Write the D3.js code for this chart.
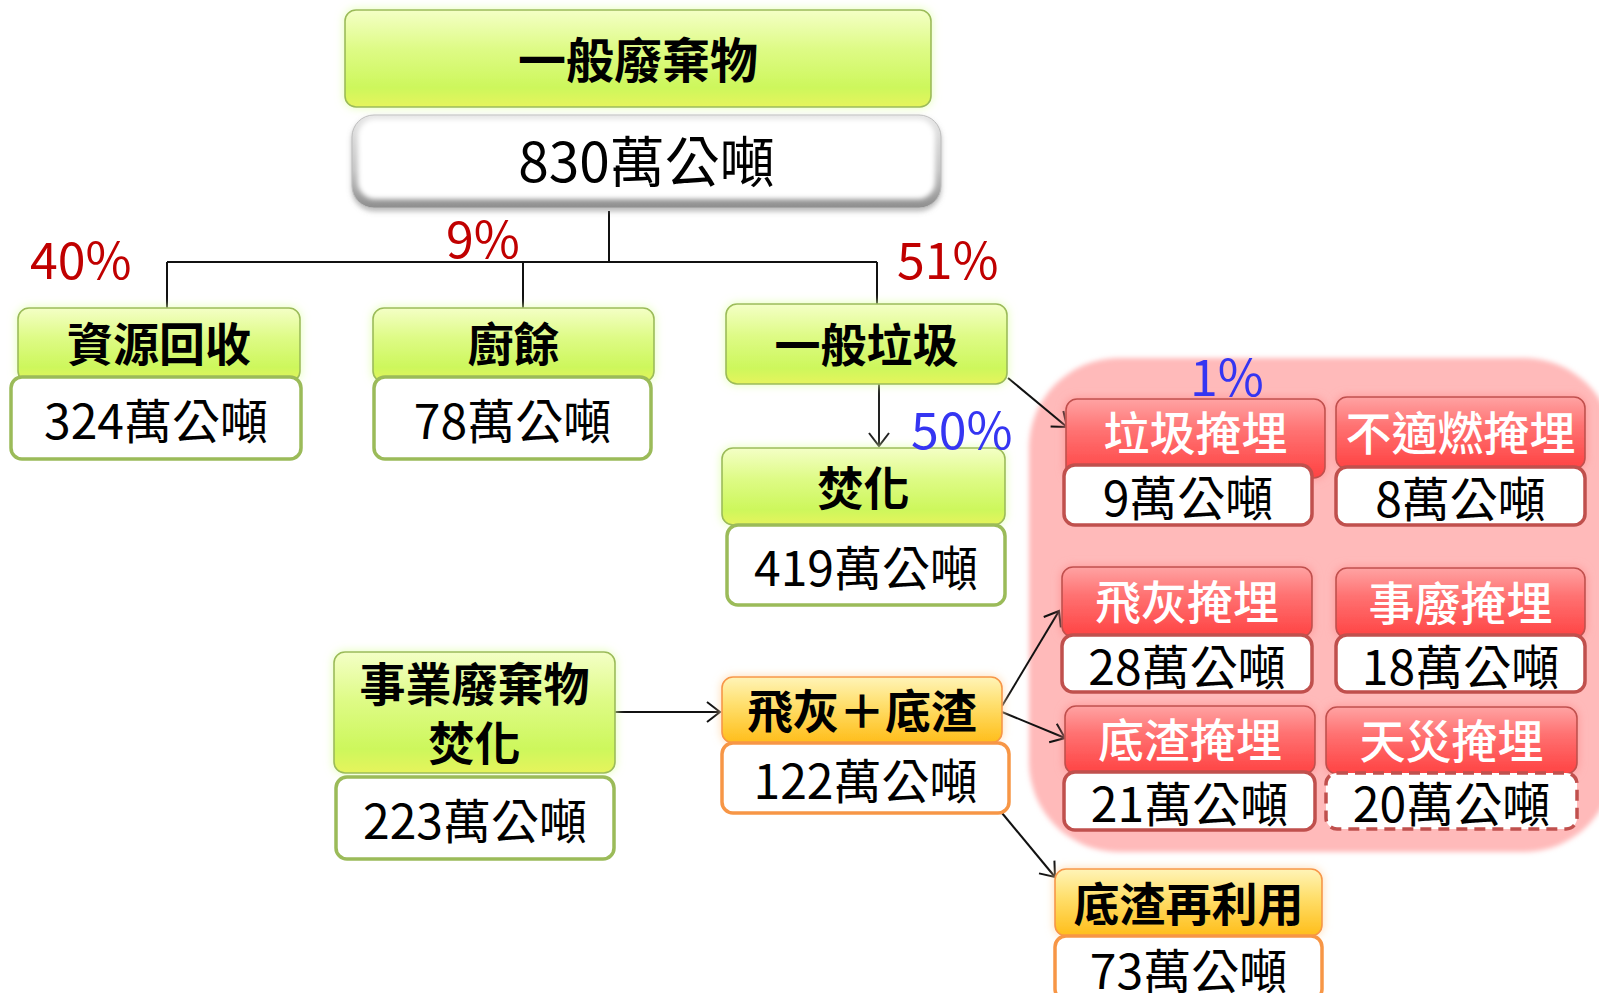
<!DOCTYPE html>
<html>
<head>
<meta charset="utf-8">
<script src="https://cdn.jsdelivr.net/npm/d3@7"></script>
<style>
  body { margin: 0; background: #fff; }
  svg { display: block; }
  text { font-family: "Noto Sans CJK TC", "Noto Sans CJK SC", sans-serif; }
</style>
</head>
<body>
<div id="chart"></div>
<script>
// ---- data ----
var names   = ["一般廢棄物", "資源回收", "廚餘", "一般垃圾", "焚化", "事業廢棄物焚化", "飛灰＋底渣",
               "垃圾掩埋", "不適燃掩埋", "飛灰掩埋", "事廢掩埋", "底渣掩埋", "天災掩埋", "底渣再利用"];
var amounts = [830, 324, 78, null, 419, 223, 122, 9, 8, 28, 18, 21, 20, 73];   // 萬公噸
var kinds   = ["top", "green", "green", "green", "green", "green", "orange",
               "red", "red", "red", "red", "red", "red", "orange"];
var unit = "萬公噸";
var shareLabels = ["40%", "9%", "51%", "50%", "1%"];
var shareOf     = ["資源回收", "廚餘", "一般垃圾", "焚化", "垃圾掩埋"];

// ---- layout (px) ----
var box = {
  "一般廢棄物":   {x: 345, y: 10, w: 586, h: 97, vx: 352, vy: 115, vw: 589, vh: 93},
  "資源回收":     {x: 18, y: 308, w: 282, h: 74, vx: 11, vy: 377, vw: 290, vh: 82},
  "廚餘":         {x: 373, y: 308, w: 281, h: 74, vx: 374, vy: 377, vw: 277, vh: 82},
  "一般垃圾":     {x: 726, y: 304, w: 281, h: 80},
  "焚化":         {x: 722, y: 448, w: 283, h: 77, vx: 727, vy: 525, vw: 278, vh: 80},
  "事業廢棄物焚化": {x: 334, y: 652, w: 281, h: 121, vx: 336, vy: 777, vw: 278, vh: 82},
  "飛灰＋底渣":   {x: 722, y: 677, w: 280, h: 66, vx: 722, vy: 743, vw: 287, vh: 70},
  "垃圾掩埋":     {x: 1066, y: 399, w: 259, h: 79, vx: 1064, vy: 465, vw: 248, vh: 60},
  "不適燃掩埋":   {x: 1336, y: 397, w: 249, h: 72, vx: 1336, vy: 467, vw: 249, vh: 58},
  "飛灰掩埋":     {x: 1062, y: 567, w: 250, h: 70, vx: 1062, vy: 635, vw: 250, vh: 57},
  "事廢掩埋":     {x: 1336, y: 568, w: 249, h: 70, vx: 1336, vy: 635, vw: 249, vh: 57},
  "底渣掩埋":     {x: 1065, y: 706, w: 250, h: 68, vx: 1064, vy: 772, vw: 251, vh: 58},
  "天災掩埋":     {x: 1326, y: 707, w: 251, h: 67, vx: 1326, vy: 773, vw: 251, vh: 56},
  "底渣再利用":   {x: 1055, y: 869, w: 267, h: 67, vx: 1055, vy: 936, vw: 267, vh: 64}
};
var pctPos = {"40%": [30, 279], "9%": [446, 258], "51%": [897, 279], "50%": [911, 449], "1%": [1190, 396]};
var tree = {x: 609, top: 211, bar: 262, drops: [[167, 308], [523, 308], [877, 304]]};
var arrows = [
  {from: [879, 384], to: [879, 446], c: "#222"},
  {from: [1008, 378], to: [1067, 427], c: "#111"},
  {from: [878, 607], to: [878, 675], c: "#c0504d"},
  {from: [615, 712], to: [720, 712], c: "#111"},
  {from: [1002, 706], to: [1059, 611], c: "#111"},
  {from: [1002, 712], to: [1065, 738], c: "#111"},
  {from: [1002, 813], to: [1055, 877], c: "#111"}
];
var pink = {x: 1029, y: 358, w: 585, h: 494, r: 90};

var theme = {
  green:  {stops: ["#f4ffc6", "#defb86", "#cdf75c", "#e6f45c"], edge: "#9bbb59", glow: "#e2ffab", ink: "#000", weight: 700},
  orange: {stops: ["#fff4b8", "#ffe070", "#ffc935", "#ffbd1c"], edge: "#f79646", glow: "#ffd8a8", ink: "#000", weight: 700},
  red:    {stops: ["#ffa3a3", "#ff7272", "#ff5252", "#ff4343"], edge: "#c0504d", glow: "#ff9090", ink: "#fff", weight: 500},
  top:    {stops: ["#f4ffc6", "#defb86", "#cdf75c", "#e6f45c"], edge: "#9bbb59", glow: "#e2ffab", ink: "#000", weight: 700}
};

var W = 1599, H = 993;
var svg = d3.select("#chart").append("svg").attr("width", W).attr("height", H);
var defs = svg.append("defs");

function glowFilter(id, color, sd) {
  var f = defs.append("filter").attr("id", id)
    .attr("x", "-30%").attr("y", "-30%").attr("width", "160%").attr("height", "160%");
  f.append("feGaussianBlur").attr("in", "SourceAlpha").attr("stdDeviation", sd).attr("result", "b");
  f.append("feFlood").attr("flood-color", color).attr("flood-opacity", 0.9);
  f.append("feComposite").attr("in2", "b").attr("operator", "in").attr("result", "g");
  var m = f.append("feMerge");
  m.append("feMergeNode").attr("in", "g");
  m.append("feMergeNode").attr("in", "SourceGraphic");
}

Object.keys(theme).forEach(function (k) {
  var t = theme[k];
  var g = defs.append("linearGradient").attr("id", "grad-" + k)
    .attr("x1", 0).attr("y1", 0).attr("x2", 0).attr("y2", 1);
  [0, 0.4, 0.8, 1].forEach(function (o, i) {
    g.append("stop").attr("offset", o).attr("stop-color", t.stops[i]);
  });
  glowFilter("glow-" + k, t.glow, 5);
});
glowFilter("glow-line", "#ffc8c8", 3);

var bevel = defs.append("linearGradient").attr("id", "bevel")
  .attr("x1", 0).attr("y1", 0).attr("x2", 0).attr("y2", 1);
bevel.append("stop").attr("offset", 0).attr("stop-color", "#e6e6e6");
bevel.append("stop").attr("offset", 0.6).attr("stop-color", "#c4c4c4");
bevel.append("stop").attr("offset", 1).attr("stop-color", "#8e8e8e");
defs.append("filter").attr("id", "soft").append("feGaussianBlur").attr("stdDeviation", 2.5);
defs.append("filter").attr("id", "shadow")
  .attr("x", "-10%").attr("y", "-20%").attr("width", "120%").attr("height", "150%")
  .append("feDropShadow").attr("dx", 0).attr("dy", 3).attr("stdDeviation", 2.5)
  .attr("flood-color", "#777").attr("flood-opacity", 0.5);

function marker(id, color) {
  defs.append("marker").attr("id", id)
    .attr("viewBox", "-16 -12 18 24").attr("refX", 0).attr("refY", 0)
    .attr("markerWidth", 18).attr("markerHeight", 24)
    .attr("markerUnits", "userSpaceOnUse").attr("orient", "auto")
    .append("path").attr("d", "M-13,-10L0,0L-13,10")
    .attr("fill", "none").attr("stroke", color).attr("stroke-width", 2);
}

// pink landfill zone
svg.append("rect")
  .attr("x", pink.x).attr("y", pink.y).attr("width", pink.w).attr("height", pink.h)
  .attr("rx", pink.r).attr("fill", "#ffbaba").attr("filter", "url(#soft)");

// tree connector
var line = d3.line();
svg.append("path").attr("d", line([[tree.x, tree.top], [tree.x, tree.bar]]))
  .attr("stroke", "#111").attr("stroke-width", 2).attr("fill", "none");
svg.append("path").attr("d", line([[tree.drops[0][0], tree.bar], [tree.drops[2][0], tree.bar]]))
  .attr("stroke", "#111").attr("stroke-width", 2).attr("fill", "none");
tree.drops.forEach(function (d) {
  svg.append("path").attr("d", line([[d[0], tree.bar], d]))
    .attr("stroke", "#111").attr("stroke-width", 2).attr("fill", "none");
});

// arrows
arrows.forEach(function (a, i) {
  var red = a.c === "#c0504d";
  marker("arr" + i, a.c);
  svg.append("path").attr("d", line([a.from, a.to]))
    .attr("stroke", a.c).attr("stroke-width", red ? 3 : 2)
    .attr("fill", "none").attr("marker-end", "url(#arr" + i + ")")
    .attr("filter", red ? "url(#glow-line)" : null);
});

// nodes
var nodes = names.map(function (n, i) {
  return {name: n, amount: amounts[i], kind: kinds[i], b: box[n]};
});

var node = svg.selectAll("g.node").data(nodes).enter().append("g").attr("class", "node");

node.append("rect")
  .attr("x", function (d) { return d.b.x; })
  .attr("y", function (d) { return d.b.y; })
  .attr("width", function (d) { return d.b.w; })
  .attr("height", function (d) { return d.b.h; })
  .attr("rx", 11)
  .attr("fill", function (d) { return "url(#grad-" + d.kind + ")"; })
  .attr("stroke", function (d) { return theme[d.kind].edge; })
  .attr("stroke-width", 1.6)
  .attr("filter", function (d) { return "url(#glow-" + d.kind + ")"; });

node.each(function (d) {
  var g = d3.select(this), b = d.b, t = theme[d.kind];
  var lines = d.name === "事業廢棄物焚化" ? ["事業廢棄物", "焚化"] : [d.name];
  var bottom = b.vy ? Math.min(b.y + b.h, b.vy) : b.y + b.h;
  var cy = (b.y + bottom) / 2 - 2;
  var fs = d.kind === "top" ? 48 : 46;
  lines.forEach(function (s, i) {
    g.append("text")
      .attr("x", b.x + b.w / 2)
      .attr("y", cy + (i - (lines.length - 1) / 2) * 59)
      .attr("text-anchor", "middle").attr("dominant-baseline", "central")
      .attr("font-size", fs).attr("font-weight", t.weight).attr("fill", t.ink)
      .text(s);
  });
  if (d.amount == null) return;

  if (d.kind === "top") {
    g.append("rect").attr("x", b.vx).attr("y", b.vy).attr("width", b.vw).attr("height", b.vh)
      .attr("rx", 22).attr("fill", "url(#bevel)").attr("stroke", "#bdbdbd").attr("stroke-width", 1)
      .attr("filter", "url(#shadow)");
    g.append("rect").attr("x", b.vx + 6).attr("y", b.vy + 4).attr("width", b.vw - 12).attr("height", b.vh - 13)
      .attr("rx", 17).attr("fill", "#fff").attr("filter", "url(#soft)");
  } else {
    g.append("rect").attr("x", b.vx).attr("y", b.vy).attr("width", b.vw).attr("height", b.vh)
      .attr("rx", 11).attr("fill", "#fff")
      .attr("stroke", t.edge).attr("stroke-width", 3.5)
      .attr("stroke-dasharray", d.name === "天災掩埋" ? "11,7" : null);
  }
  g.append("text")
    .attr("x", b.vx + b.vw / 2)
    .attr("y", b.vy + b.vh / 2 + (d.kind === "top" ? -4 : 0))
    .attr("text-anchor", "middle").attr("dominant-baseline", "central")
    .attr("font-size", d.kind === "top" ? 55 : 48).attr("fill", "#000")
    .text(d.amount + unit);
});

// percentage labels
svg.selectAll("text.pct").data(shareLabels).enter().append("text")
  .attr("class", "pct")
  .attr("x", function (d) { return pctPos[d][0]; })
  .attr("y", function (d) { return pctPos[d][1]; })
  .attr("font-size", 50)
  .attr("fill", function (d, i) { return box[shareOf[i]].y < 320 ? "#c00000" : "#3535f2"; })
  .text(function (d) { return d; });
</script>
</body>
</html>
